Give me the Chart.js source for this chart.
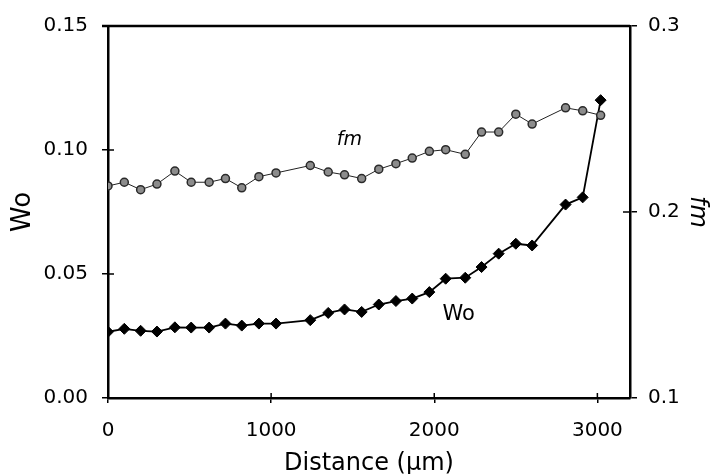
<!DOCTYPE html>
<html>
<head>
<meta charset="utf-8">
<script src="https://cdn.jsdelivr.net/npm/chart.js@4"></script>
<style>
  html, body { margin: 0; padding: 0; background: #fff; }
  #wrap { width: 711px; height: 474px; }
</style>
</head>
<body>
<div id="wrap"><canvas id="chart"></canvas></div>
<script>
// distance along the sample (µm)
const distance = [0, 100, 200, 300, 410, 510, 620, 720, 820, 925, 1030,
  1240, 1350, 1450, 1555, 1660, 1765, 1865, 1970, 2070,
  2190, 2290, 2395, 2500, 2600, 2805, 2910, 3020];

// Wo, left axis
const woValues = [0.0267, 0.0279, 0.0271, 0.0268, 0.0285, 0.0284, 0.0284, 0.0300, 0.0292, 0.0300, 0.0300,
  0.0314, 0.0343, 0.0357, 0.0347, 0.0377, 0.0391, 0.0401, 0.0427, 0.0481,
  0.0485, 0.0528, 0.0582, 0.0622, 0.0615, 0.0780, 0.0809, 0.1201];

// fm, right axis
const fmValues = [0.214, 0.216, 0.212, 0.215, 0.222, 0.216, 0.216, 0.218, 0.213, 0.219, 0.221,
  0.225, 0.2215, 0.220, 0.218, 0.223, 0.226, 0.229, 0.2326, 0.2335,
  0.231, 0.243, 0.243, 0.2526, 0.2473, 0.256, 0.2544, 0.252];

const xTicks = [0, 1000, 2000, 3000];
const woTicks = [0, 0.05, 0.10, 0.15];
const fmTicks = [0.1, 0.2, 0.3];

const FONT = "'DejaVu Sans', 'Liberation Sans', Arial, sans-serif";

const fixTicks = list => scale => { scale.ticks = list.map(v => ({ value: v })); };

// small tick marks pointing into the plot, plus the top frame line
const frame = {
  id: 'frame',
  afterDraw(chart) {
    const { ctx, chartArea: a, scales } = chart;
    ctx.save();
    ctx.strokeStyle = '#000';
    ctx.lineWidth = 1.5;
    ctx.beginPath();
    xTicks.forEach(v => {
      const px = scales.x.getPixelForValue(v);
      ctx.moveTo(px, a.bottom);
      ctx.lineTo(px, a.bottom - 5);
    });
    woTicks.forEach(v => {
      const py = scales.y.getPixelForValue(v);
      ctx.moveTo(a.left, py);
      ctx.lineTo(a.left + 6, py);
    });
    fmTicks.forEach(v => {
      const py = scales.y2.getPixelForValue(v);
      ctx.moveTo(a.right, py);
      ctx.lineTo(a.right - 7, py);
    });
    ctx.stroke();

    ctx.lineWidth = 2.5;
    ctx.beginPath();
    ctx.moveTo(a.left - 6, a.top);
    ctx.lineTo(a.right, a.top);
    ctx.stroke();

    // series labels
    ctx.fillStyle = '#000';
    ctx.textAlign = 'center';
    ctx.textBaseline = 'middle';
    ctx.font = "italic 19px " + FONT;
    ctx.fillText('fm', scales.x.getPixelForValue(1480), scales.y2.getPixelForValue(0.2385));
    ctx.font = "21px " + FONT;
    ctx.fillText('Wo', scales.x.getPixelForValue(2150), scales.y.getPixelForValue(0.0335));
    ctx.restore();
  }
};

new Chart(document.getElementById('chart'), {
  type: 'line',
  data: {
    datasets: [
      {
        label: 'fm',
        data: distance.map((d, i) => ({ x: d, y: fmValues[i] })),
        yAxisID: 'y2',
        borderColor: '#222',
        borderWidth: 1,
        pointStyle: 'circle',
        pointRadius: 4,
        pointBackgroundColor: '#8c8c8c',
        pointBorderColor: '#2a2a2a',
        pointBorderWidth: 1.5,
        tension: 0
      },
      {
        label: 'Wo',
        data: distance.map((d, i) => ({ x: d, y: woValues[i] })),
        yAxisID: 'y',
        borderColor: '#000',
        borderWidth: 1.8,
        pointStyle: 'rectRot',
        pointRadius: 5.5,
        pointBackgroundColor: '#000',
        pointBorderColor: '#000',
        pointBorderWidth: 1,
        tension: 0
      }
    ]
  },
  options: {
    responsive: true,
    maintainAspectRatio: false,
    animation: false,
    layout: { padding: { top: 25, left: 0, right: 0, bottom: 0 } },
    plugins: {
      legend: { display: false },
      tooltip: { enabled: false }
    },
    scales: {
      x: {
        type: 'linear',
        min: 0,
        max: 3200,
        afterBuildTicks: fixTicks(xTicks),
        afterFit: s => { s.height = 76; },
        border: { display: true, color: '#000', width: 2.5 },
        grid: { drawOnChartArea: false, color: '#000', lineWidth: 1.5, tickLength: 5 },
        ticks: { color: '#000', font: { family: FONT, size: 20 }, padding: 16, maxRotation: 0, callback: v => String(v) },
        title: {
          display: true,
          text: 'Distance (\u03bcm)',
          color: '#000',
          font: { family: FONT, size: 24, lineHeight: 1 },
          padding: { top: 0, bottom: -2 }
        }
      },
      y: {
        position: 'left',
        min: 0,
        max: 0.15,
        afterBuildTicks: fixTicks(woTicks),
        afterFit: s => { s.width = 108; },
        border: { display: true, color: '#000', width: 2.5 },
        grid: { drawOnChartArea: false, color: '#000', lineWidth: 1.5, tickLength: 6 },
        ticks: { color: '#000', font: { family: FONT, size: 20 }, padding: 14, callback: v => v.toFixed(2) },
        title: {
          display: true,
          text: 'Wo',
          color: '#000',
          font: { family: FONT, size: 26, lineHeight: 1 },
          padding: { top: 10, bottom: 0 }
        }
      },
      y2: {
        position: 'right',
        min: 0.1,
        max: 0.3,
        afterBuildTicks: fixTicks(fmTicks),
        afterFit: s => { s.width = 81; },
        border: { display: true, color: '#000', width: 2.5 },
        grid: { drawOnChartArea: false, color: '#000', lineWidth: 1.5, tickLength: 7 },
        ticks: { color: '#000', font: { family: FONT, size: 20 }, padding: 11, callback: v => v.toFixed(1) },
        title: {
          display: true,
          text: 'fm',
          color: '#000',
          font: { family: FONT, size: 24, style: 'italic', lineHeight: 1 },
          padding: { top: 2, bottom: 0 }
        }
      }
    }
  },
  plugins: [frame]
});
</script>
</body>
</html>
